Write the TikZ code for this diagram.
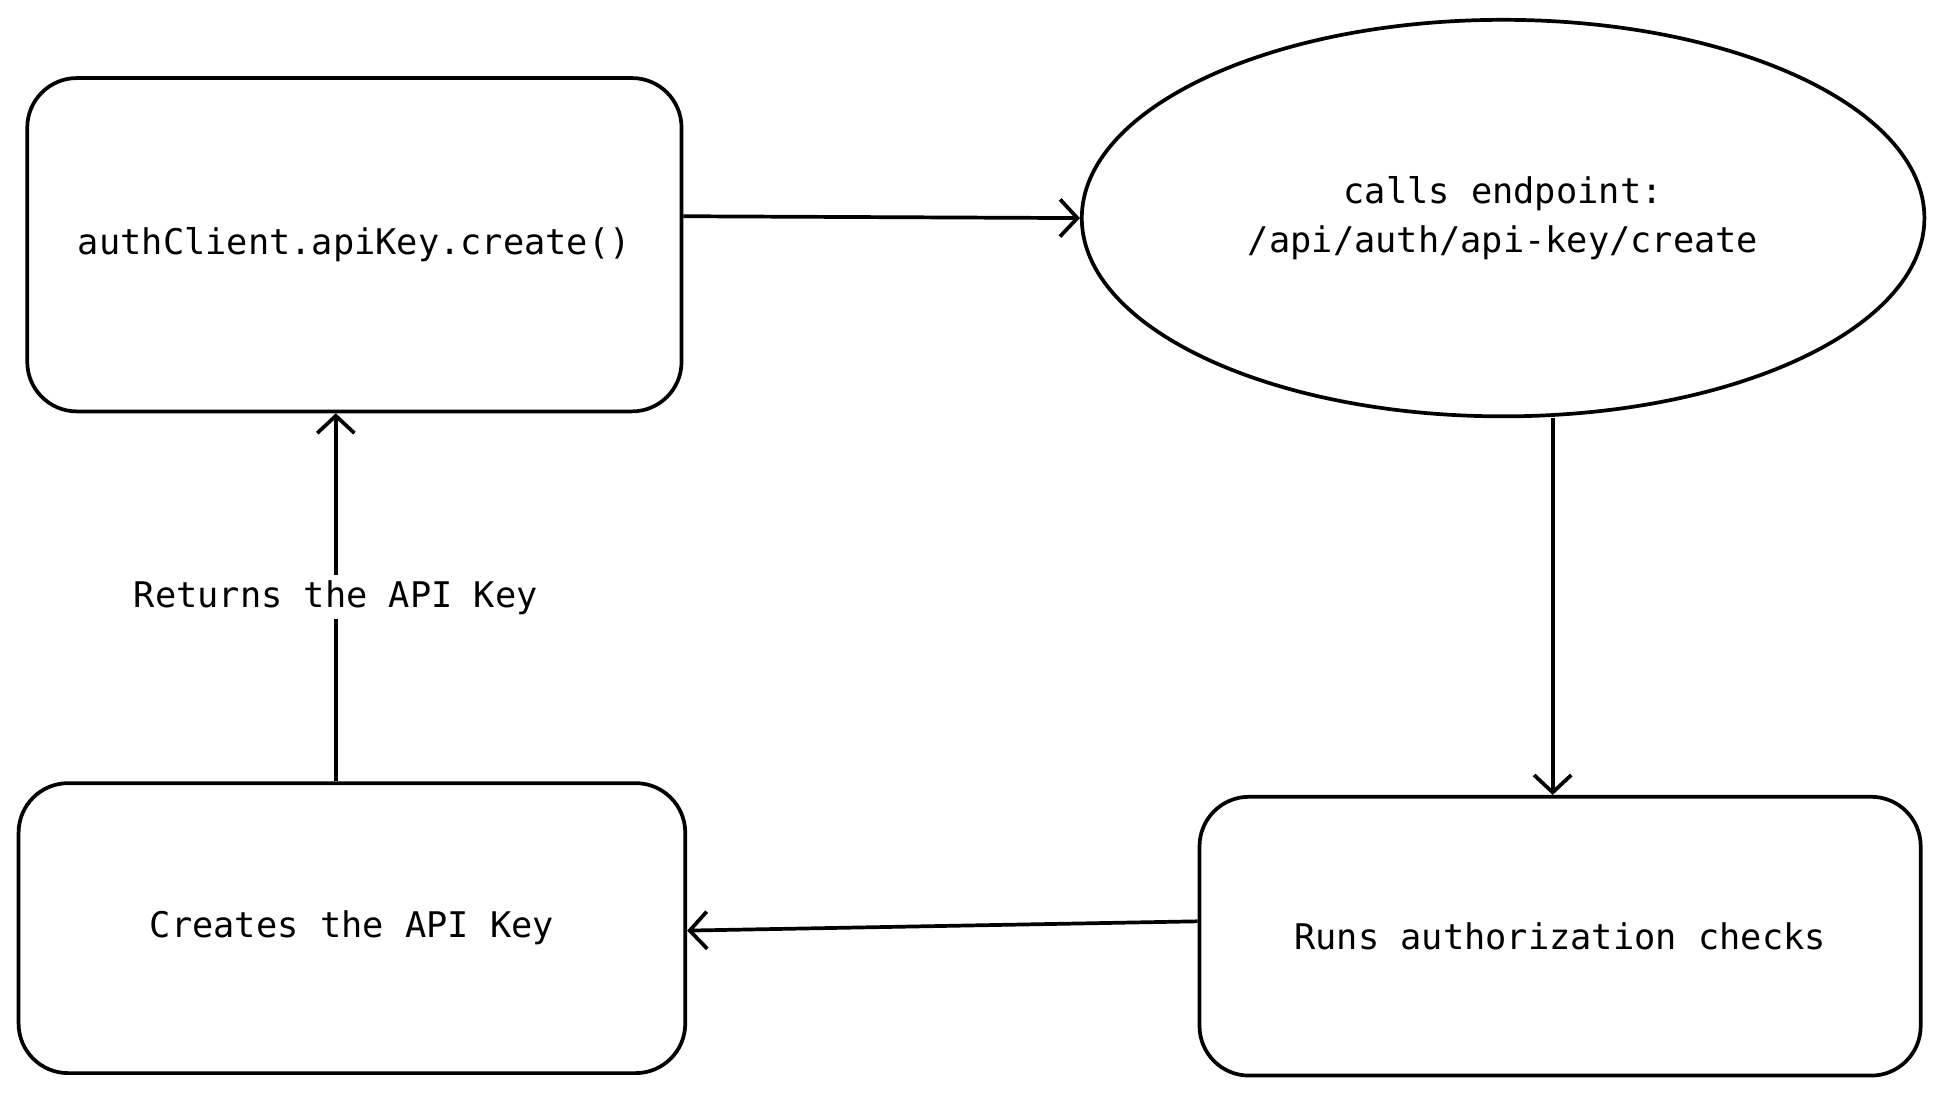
\documentclass[tikz,border=0pt]{standalone}
\usepackage{fontspec}
\setmonofont{DejaVu Sans Mono}
\usetikzlibrary{arrows.meta,shapes.geometric}
\begin{document}
\begin{tikzpicture}[x=1pt,y=-1pt,
  every node/.style={font=\fontsize{28.5}{40}\selectfont\ttfamily},
  box/.style={draw,line width=3pt,rounded corners=40pt,inner sep=0pt},
  arr/.style={line width=3pt,-{Straight Barb[length=14pt,width=30pt,line width=3pt]}}]
\useasboundingbox (0,0) rectangle (1568,885);
\node[box,minimum width=528pt,minimum height=269pt] (b1) at (286,197.5) {authClient.apiKey.create()};
\node[draw,line width=3pt,ellipse,minimum width=680pt,minimum height=320pt,align=center] (ell) at (1213,176) {calls endpoint:\\/api/auth/api-key/create};
\node[box,minimum width=582pt,minimum height=225pt] (b3) at (1259,755.5) {Runs authorization checks};
\node[box,minimum width=538pt,minimum height=234pt] (b4) at (284,749) {Creates the API Key};
\draw[arr] (b1.east) ++(0,-23) -- (ell.west);
\draw[arr] (ell.south) ++(40,0) coordinate (s) -- (s |- b3.north);
\draw[arr] (b3.west) ++(0,-12) -- ([yshift=-2]b4.east);
\draw[arr] (b4.north) ++(-13,0) coordinate (u) -- (u |- b1.south) node[pos=0.5,fill=white,inner sep=4pt] {Returns the API Key};
\end{tikzpicture}
\end{document}
